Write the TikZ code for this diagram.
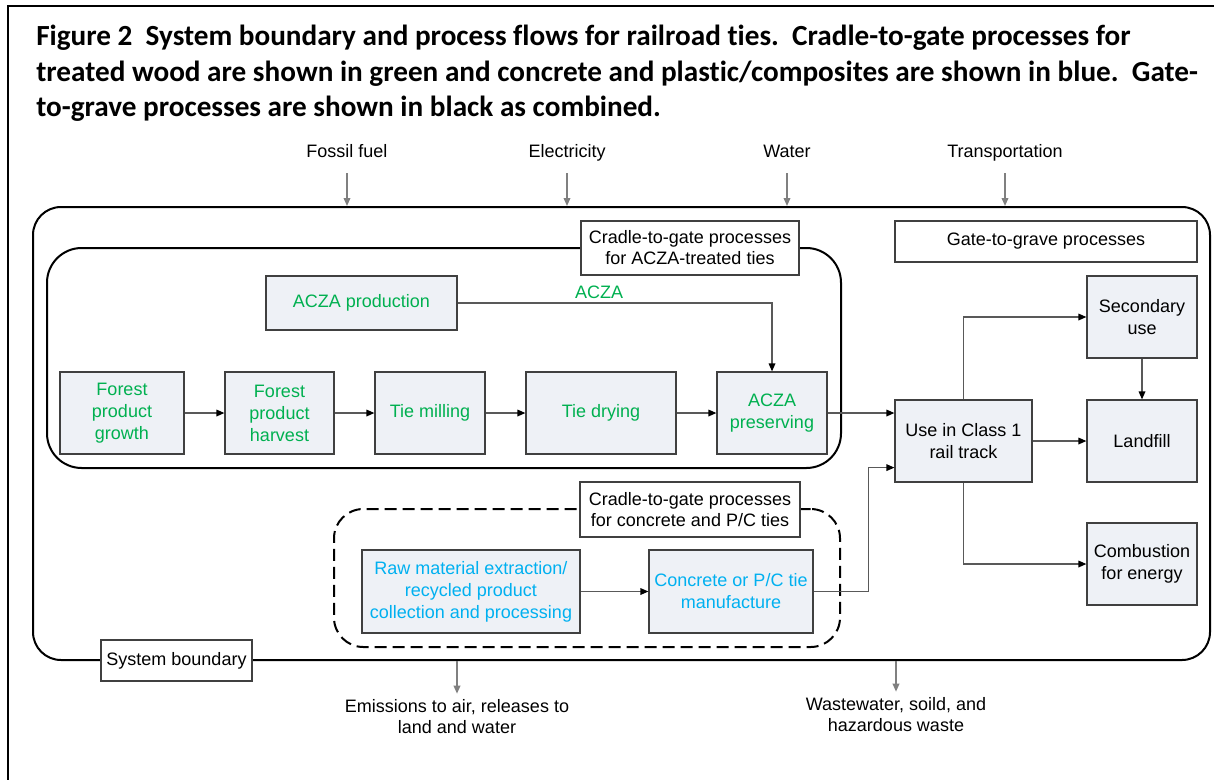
\documentclass[tikz,border=0pt]{standalone}
\usepackage{fontspec}
\setmainfont{Liberation Sans}
\newfontfamily\titlefont[Ligatures=NoCommon]{Carlito}
\usetikzlibrary{arrows.meta,calc}
\definecolor{tgreen}{RGB}{0,176,80}
\definecolor{tblue}{RGB}{0,176,240}
\definecolor{boxfill}{RGB}{238,241,246}
\definecolor{boxdraw}{RGB}{64,64,64}
\definecolor{iogray}{RGB}{128,128,128}
\definecolor{conngray}{RGB}{89,89,89}
\tikzset{
  every node/.style={font=\fontsize{13.5}{16.5}\selectfont, inner sep=0pt},
  proc/.style={draw=boxdraw, fill=boxfill, line width=0.9pt, align=center},
  lbl/.style={draw=boxdraw, fill=white, line width=0.9pt, align=center, font=\fontsize{13.5}{15.75}\selectfont},
  bound/.style={draw=black, line width=1.5pt, rounded corners=21pt},
  conn/.style={draw=conngray, line width=0.9pt, -{Triangle[black,length=6pt,width=5pt]}},
  io/.style={draw=iogray, line width=1.1pt, -{Triangle[length=6pt,width=5pt]}},
  iotext/.style={text height=10pt, text depth=3pt, align=center},
  outtext/.style={align=center, font=\fontsize{13.5}{15.75}\selectfont},
}
\begin{document}
\begin{tikzpicture}[x=0.75pt,y=-0.75pt]
\useasboundingbox (0,0) rectangle (1214,779);
\draw[line width=1.6pt] (8,800) -- (8,6) -- (1230,6);
\node[anchor=north west, align=left, font=\titlefont\bfseries\fontsize{21.9}{26.6}\selectfont] (title) at (36,25)
 {Figure 2\ \ System boundary and process flows for railroad ties.\ \ Cradle-to-gate processes for\\
  treated wood are shown in green and concrete and plastic/composites are shown in blue.\ \ Gate-\\
  to-grave processes are shown in black as combined.};

% boundaries
\node[bound, minimum width=882.75pt, minimum height=339.75pt] (sysb) at (621.5,433.5) {};
\node[bound, rounded corners=26pt, minimum width=595.5pt, minimum height=165pt] (aczab) at (444,358) {};
\node[bound, dash pattern=on 9pt off 4.5pt, rounded corners=22pt, minimum width=379.5pt, minimum height=103.5pt] (concb) at (587,578) {};

% labels
\node[lbl, minimum width=163.5pt, minimum height=40.5pt] (aczalbl) at (690,248) {Cradle-to-gate processes\\for ACZA-treated ties};
\node[lbl, minimum width=165pt, minimum height=41.25pt] (conclbl) at (690,509.5) {Cradle-to-gate processes\\for concrete and P/C ties};
\node[lbl, minimum width=226.5pt, minimum height=30.75pt] (g2g) at (1046,241.5) {Gate-to-grave processes};
\node[lbl, minimum width=113.25pt, minimum height=30.75pt] (sblbl) at (176.5,660.5) {System boundary};

% processes
\node[proc, text=tgreen, minimum width=93pt, minimum height=61.5pt] (fpg) at (122,413) {Forest\\product\\growth};
\node[proc, text=tgreen, minimum width=81.75pt, minimum height=61.5pt] (fph) at (279.5,413) {Forest\\product\\harvest};
\node[proc, text=tgreen, minimum width=82.5pt, minimum height=61.5pt] (tm) at (430,413) {Tie milling};
\node[proc, text=tgreen, minimum width=112.5pt, minimum height=61.5pt] (td) at (601,413) {Tie drying};
\node[proc, text=tgreen, minimum width=82.5pt, minimum height=61.5pt] (ap) at (772,413) {ACZA\\preserving};
\node[proc, text=tgreen, minimum width=143.25pt, minimum height=40.5pt] (aprod) at (361.5,303) {ACZA production};
\node[proc, text=tblue, minimum width=163.5pt, minimum height=62.25pt] (raw) at (471,591.5) {Raw material extraction/\\recycled product\\collection and processing};
\node[proc, text=tblue, minimum width=123pt, minimum height=62.25pt] (cpc) at (731,591.5) {Concrete or P/C tie\\manufacture};
\node[proc, minimum width=102.75pt, minimum height=61.5pt] (use) at (963.5,441) {Use in Class 1\\rail track};
\node[proc, minimum width=82.5pt, minimum height=61.5pt] (sec) at (1142,317) {Secondary\\use};
\node[proc, minimum width=82.5pt, minimum height=61.5pt] (lf) at (1142,441) {Landfill};
\node[proc, minimum width=82.5pt, minimum height=61.5pt] (comb) at (1142,564) {Combustion\\for energy};

% connectors
\draw[conn] (fpg.east) -- (fph.west);
\draw[conn] (fph.east) -- (tm.west);
\draw[conn] (tm.east) -- (td.west);
\draw[conn] (td.east) -- (ap.west);
\draw[conn] (aprod.east) -- node[above, pos=0.45, yshift=3pt, text=tgreen] {ACZA} (aprod.east -| ap.north) -- (ap.north);
\draw[conn] (ap.east) -- (ap.east -| use.west);
\draw[conn] (raw.east) -- (cpc.west);
\draw[conn] (cpc.east) -- ++(55,0) |- ($(use.south west)+(0,-15)$);
\draw[conn] (use.north) |- (sec.west);
\draw[conn] (use.east) -- (lf.west);
\draw[conn] (sec.south) -- (lf.north);
\draw[conn] (use.south) |- (comb.west);

% inputs
\node[iotext] (ff) at (347,153) {Fossil fuel};
\node[iotext] (el) at (567,153) {Electricity};
\node[iotext] (wa) at (787,153) {Water};
\node[iotext] (tr) at (1005,153) {Transportation};
\foreach \n in {ff,el,wa,tr}
  \draw[io] ([yshift=-8.5pt]\n.south) -- (\n.south |- sysb.north);

% outputs
\node[outtext, anchor=north] (em) at (457,699) {Emissions to air, releases to\\land and water};
\node[outtext, anchor=north] (ww) at (896,697) {Wastewater, soild, and\\hazardous waste};
\draw[io] (em.north |- sysb.south) -- ([yshift=4pt]em.north);
\draw[io] (ww.north |- sysb.south) -- ([yshift=4pt]ww.north);
\end{tikzpicture}
\end{document}
